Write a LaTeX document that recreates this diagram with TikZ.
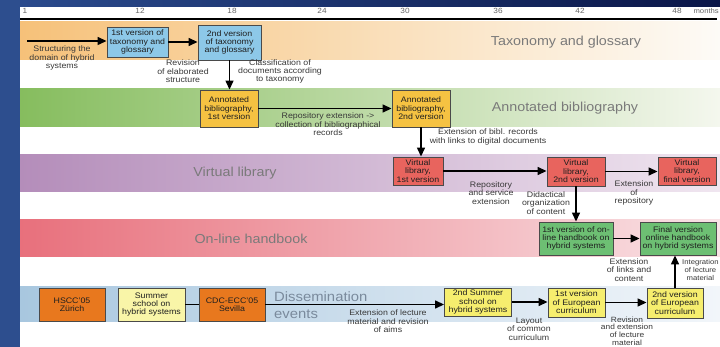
\documentclass[tikz,border=0pt]{standalone}
\usepackage{fontspec}
\setmainfont{Liberation Sans}[FakeStretch=1.1]
\usetikzlibrary{arrows.meta}
\definecolor{leftblue}{HTML}{2D4E8E}
\definecolor{topL}{HTML}{2A4A8C}
\definecolor{topR}{HTML}{0A1648}
\definecolor{taxL}{HTML}{F6C179}
\definecolor{taxR}{HTML}{FDFBF7}
\definecolor{bibL}{HTML}{86BD5E}
\definecolor{bibR}{HTML}{F4F7EE}
\definecolor{vlL}{HTML}{B48DBA}
\definecolor{vlR}{HTML}{F0E6F0}
\definecolor{hbL}{HTML}{E8707C}
\definecolor{hbR}{HTML}{F9E3E6}
\definecolor{disL}{HTML}{A8C7DF}
\definecolor{disR}{HTML}{F2F6FA}
\definecolor{taxbox}{HTML}{8DC8E8}
\definecolor{bibbox}{HTML}{F5C242}
\definecolor{vlbox}{HTML}{E8645E}
\definecolor{hbbox}{HTML}{6DBF73}
\definecolor{orbox}{HTML}{E8781E}
\definecolor{paleyel}{HTML}{F9F5A8}
\definecolor{yelbox}{HTML}{F6EE6E}
\definecolor{boxline}{HTML}{4A4A4A}
\definecolor{bandtext}{HTML}{7A7A7A}
\definecolor{distext}{HTML}{7A8A9C}
\begin{document}
\begin{tikzpicture}[x=1pt,y=-1pt,
  box/.style={draw=boxline, line width=0.9pt, align=center, inner sep=0pt,
    font=\fontsize{8}{8.4}\selectfont, text=black!88},
  lbl/.style={align=center, inner sep=0pt, font=\fontsize{8}{8.4}\selectfont, text=black!78},
  bandlbl/.style={inner sep=0pt, font=\fontsize{13}{14}\selectfont, text=bandtext},
  tick/.style={inner sep=0pt, font=\fontsize{7.5}{8}\selectfont, text=black!60},
  arr/.style={line width=1.4pt, -{Triangle[length=9pt,width=8pt]}},
  plain/.style={line width=1.4pt}]
\useasboundingbox (0,0) rectangle (720,347);
\fill[white] (0,0) rectangle (720,347);
% frame
\fill[leftblue] (0,0) rectangle (20,347);
\shade[left color=topL, right color=topR] (20,0) rectangle (720,7);
% timeline
\node[tick] (t1) at (25,11) {1};
\node[tick] (t12) at (140,11) {12};
\node[tick] (t18) at (232,11) {18};
\node[tick] (t24) at (322,11) {24};
\node[tick] (t30) at (405,11) {30};
\node[tick] (t36) at (498,11) {36};
\node[tick] (t42) at (580,11) {42};
\node[tick] (t48) at (677,11) {48};
\node[tick, anchor=east, font=\fontsize{7}{8}\selectfont] (tm) at (719,11) {months};
\draw[line width=2pt] (20,19) -- (717,19);
% bands
\shade[left color=taxL, right color=taxR] (20,22) rectangle (720,60);
\shade[left color=bibL, right color=bibR] (20,89) rectangle (720,127);
\shade[left color=vlL, right color=vlR] (20,155) rectangle (720,192);
\shade[left color=hbL, right color=hbR] (20,220) rectangle (720,257);
\shade[left color=disL, right color=disR] (20,287) rectangle (720,321);
\node[bandlbl] (btax) at (566,42) {Taxonomy and glossary};
\node[bandlbl] (bbib) at (565,108) {Annotated bibliography};
\node[bandlbl] (bvl) at (235,173) {Virtual library};
\node[bandlbl] (bhb) at (251,239) {On-line handbook};
\node[bandlbl, anchor=west, text=distext, font=\fontsize{13.5}{14}\selectfont] (bdis1) at (274,297) {Dissemination};
\node[bandlbl, anchor=west, text=distext, font=\fontsize{13.5}{14}\selectfont] (bdis2) at (274,314) {events};
% boxes
\node[box, fill=taxbox, minimum width=61, minimum height=30] (tax1) at (137.5,42) {1st version of\\taxonomy and\\glossary};
\node[box, fill=taxbox, minimum width=63, minimum height=35] (tax2) at (229.5,42.5) {2nd version\\of taxonomy\\and glossary};
\node[box, fill=bibbox, minimum width=58, minimum height=37] (bib1) at (229,108.5) {Annotated\\bibliography,\\1st version};
\node[box, fill=bibbox, minimum width=58, minimum height=37] (bib2) at (421,108.5) {Annotated\\bibliography,\\2nd version};
\node[box, fill=vlbox, minimum width=50, minimum height=28] (vl1) at (418,171) {Virtual\\library,\\1st version};
\node[box, fill=vlbox, minimum width=58, minimum height=29] (vl2) at (576,171.5) {Virtual\\library,\\2nd version};
\node[box, fill=vlbox, minimum width=58, minimum height=28] (vl3) at (687,171) {Virtual\\library,\\final version};
\node[box, fill=hbbox, minimum width=74, minimum height=33] (hb1) at (576,238.5) {1st version of on-\\line handbook on\\hybrid systems};
\node[box, fill=hbbox, minimum width=76, minimum height=33] (hb2) at (678,238.5) {Final version\\online handbook\\on hybrid systems};
\node[box, fill=orbox, minimum width=66, minimum height=33] (hscc) at (72,304.5) {HSCC'05\\Zürich};
\node[box, fill=paleyel, minimum width=67, minimum height=33] (ss1) at (151.5,304.5) {Summer\\school on\\hybrid systems};
\node[box, fill=orbox, minimum width=66, minimum height=33] (cdc) at (232,304.5) {CDC-ECC'05\\Sevilla};
\node[box, fill=yelbox, minimum width=67, minimum height=28] (ss2) at (478,302) {2nd Summer\\school on\\hybrid systems};
\node[box, fill=yelbox, minimum width=57, minimum height=29] (ec1) at (576.5,302.5) {1st version\\of European\\curriculum};
\node[box, fill=yelbox, minimum width=56, minimum height=30] (ec2) at (675,303) {2nd version\\of European\\curriculum};
% labels
\node[lbl] (l1) at (62,58) {Structuring the\\domain of hybrid\\systems};
\node[lbl] (l2) at (183,71.5) {Revision\\of elaborated\\structure};
\node[lbl] (l3) at (280,71.5) {Classification of\\documents according\\to taxonomy};
\node[lbl] (l4) at (328,124.5) {Repository extension ->\\collection of bibliographical\\records};
\node[lbl] (l5) at (488,137) {Extension of bibl. records\\with links to digital documents};
\node[lbl] (l6) at (491,193) {Repository\\and service\\extension};
\node[lbl] (l7) at (546,203) {Didactical\\organization\\of content};
\node[lbl] (l8) at (634,193) {Extension\\of\\repository};
\node[lbl] (l9) at (629,270) {Extension\\of links and\\content};
\node[lbl, anchor=west, font=\fontsize{7}{8.2}\selectfont] (l10) at (682,270) {Integration\\of lecture\\material};
\node[lbl] (l11) at (388,321.5) {Extension of lecture\\material and revision\\of aims};
\node[lbl] (l12) at (529,329) {Layout\\of common\\curriculum};
\node[lbl, anchor=north, font=\fontsize{7.6}{7.7}\selectfont] (l13) at (627,316.5) {Revision\\and extension\\of lecture\\material};
% connectors
\coordinate (s0) at (27,41);
\draw[arr] (s0) -- (s0 -| tax1.west);
\draw[arr] (tax1.east) -- (tax1.east -| tax2.west);
\draw[arr] (tax2.south) -- (tax2.south |- bib1.north);
\draw[arr] (bib1.east) -- (bib1.east -| bib2.west);
\draw[arr] (bib2.south) -- (bib2.south |- vl1.north);
\draw[arr] (vl1.east) -- (vl1.east -| vl2.west);
\draw[arr] (vl2.east) -- (vl2.east -| vl3.west);
\draw[arr] (vl2.south) -- (vl2.south |- hb1.north);
\draw[arr] (hb1.east) -- (hb1.east -| hb2.west);
\draw[plain] (ss1.east) -- (ss1.east -| cdc.west);
\draw[arr] (cdc.east) -- (cdc.east -| ss2.west);
\draw[arr] (ss2.east) -- (ss2.east -| ec1.west);
\draw[arr] (ec1.east) -- (ec1.east -| ec2.west);
\draw[arr] (ec2.north) -- (ec2.north |- hb2.south);
\end{tikzpicture}
\end{document}
